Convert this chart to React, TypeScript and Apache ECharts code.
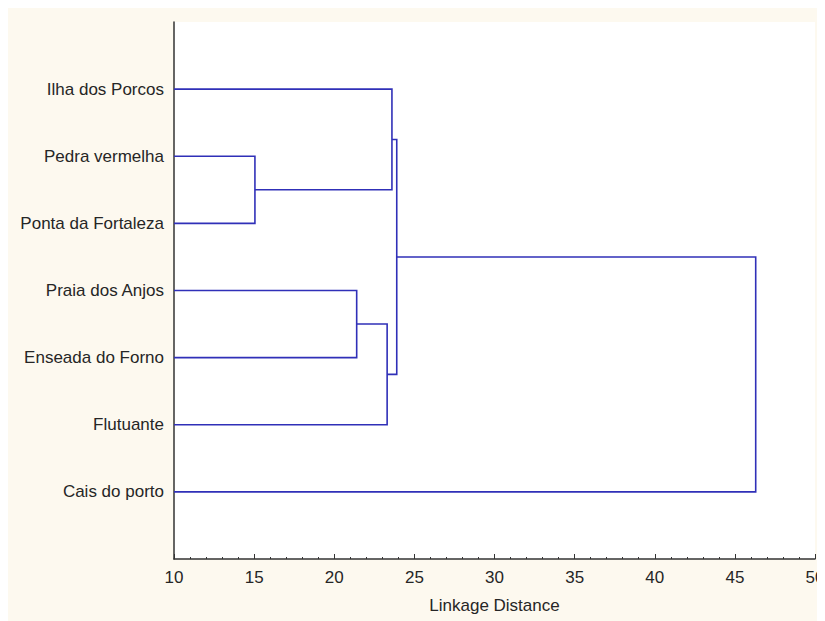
import React, { useEffect, useRef } from "react";
import * as echarts from "echarts";

// Leaves, listed top to bottom
const leaves = [
  "Ilha dos Porcos",
  "Pedra vermelha",
  "Ponta da Fortaleza",
  "Praia dos Anjos",
  "Enseada do Forno",
  "Flutuante",
  "Cais do porto",
];

// Agglomeration steps: clusters 0..6 are leaves, each merge creates cluster 7, 8, ...
const mergeA = [1, 0, 3, 9, 8, 11];
const mergeB = [2, 7, 4, 5, 10, 6];
const mergeDist = [15.05, 23.6, 21.4, 23.3, 23.9, 46.3];

// Distance axis
const xMin = 10;
const xMax = 50;
const xStep = 5;

function buildLinks() {
  const nodeX: number[] = leaves.map(() => xMin);
  const nodeY: number[] = leaves.map((_, i) => i);
  const links: { coords: number[][] }[] = [];
  mergeDist.forEach((d, k) => {
    const a = mergeA[k];
    const b = mergeB[k];
    links.push({
      coords: [
        [nodeX[a], nodeY[a]],
        [d, nodeY[a]],
        [d, nodeY[b]],
        [nodeX[b], nodeY[b]],
      ],
    });
    nodeX.push(d);
    nodeY.push((nodeY[a] + nodeY[b]) / 2);
  });
  return links;
}

export default function App() {
  const ref = useRef<HTMLDivElement>(null);

  useEffect(() => {
    if (!ref.current) return;
    document.body.style.overflow = "hidden";
    const chart = echarts.init(ref.current, undefined, { renderer: "svg" });
    const font = "'Liberation Sans', Arial, sans-serif";
    const textColor = "#262626";
    const axisColor = "#333333";
    const fontSize = 17;

    chart.setOption({
      animation: false,
      backgroundColor: "transparent",
      graphic: [
        {
          type: "rect",
          z: -100,
          silent: true,
          shape: { x: 0, y: 0, width: 812, height: 613 },
          style: { fill: "#FDF9EF" },
        },
      ],
      grid: {
        left: 166,
        right: 10,
        top: 14,
        bottom: 62,
        outerBoundsMode: "none",
        containLabel: false,
        show: true,
        backgroundColor: "#ffffff",
        borderWidth: 0,
      },
      xAxis: {
        type: "value",
        min: xMin,
        max: xMax,
        interval: xStep,
        name: "Linkage Distance",
        nameLocation: "middle",
        nameGap: 38,
        nameTextStyle: { color: textColor, fontSize, fontFamily: font },
        axisLine: { show: true, onZero: false, lineStyle: { color: axisColor, width: 1.5 } },
        axisTick: { show: true, inside: true, length: 5, lineStyle: { color: axisColor } },
        minorTick: { show: true, splitNumber: 5, length: 2, lineStyle: { color: axisColor } },
        axisLabel: {
          color: textColor,
          fontSize,
          fontFamily: font,
          margin: 10,
          showMaxLabel: true,
          hideOverlap: false,
        },
        splitLine: { show: false },
      },
      yAxis: {
        type: "value",
        min: -1,
        max: leaves.length,
        interval: 1,
        inverse: true,
        axisLine: { show: true, onZero: false, lineStyle: { color: axisColor, width: 1.5 } },
        axisTick: { show: false },
        axisLabel: {
          color: textColor,
          fontSize,
          fontFamily: font,
          margin: 10,
          formatter: (v: number) => leaves[v] ?? "",
        },
        splitLine: { show: false },
      },
      series: [
        {
          type: "lines",
          coordinateSystem: "cartesian2d",
          polyline: true,
          silent: true,
          lineStyle: { color: "#3030B8", width: 1.6, opacity: 1 },
          data: buildLinks(),
        },
      ],
    });

    return () => chart.dispose();
  }, []);

  return <div ref={ref} style={{ width: 817, height: 613 }} />;
}
